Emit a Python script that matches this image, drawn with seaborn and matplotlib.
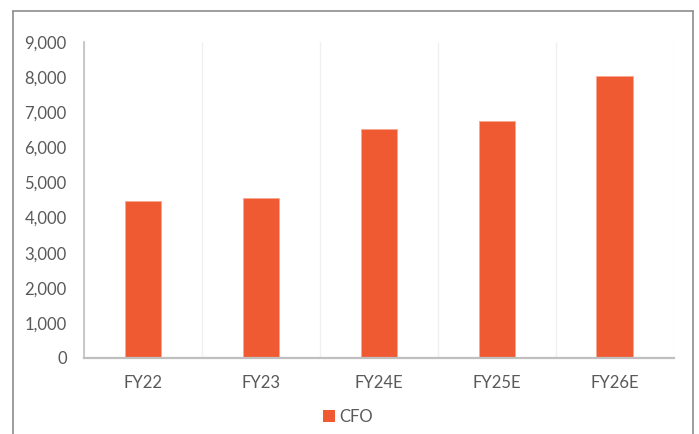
import matplotlib
matplotlib.use("Agg")
import matplotlib.pyplot as plt
import matplotlib.ticker as mticker
from matplotlib.lines import Line2D
from matplotlib.patches import Patch
import seaborn as sns
import pandas as pd

categories = ["FY22", "FY23", "FY24E", "FY25E", "FY26E"]
cfo = [4470, 4550, 6530, 6740, 8040]
series_name = "CFO"
yticks = [0, 1000, 2000, 3000, 4000, 5000, 6000, 7000, 8000, 9000]

sns.set_style("white")
plt.rcParams["font.family"] = ["Lato", "DejaVu Sans"]

W, H = 699, 434
fig = plt.figure(figsize=(W / 100, H / 100), dpi=100)
ax = fig.add_axes([84 / W, 1 - 358 / H, (673.7 - 84) / W, (358 - 42) / H])

df = pd.DataFrame({"cat": categories, "val": cfo})
sns.barplot(data=df, x="cat", y="val", color="#F05A32", width=0.31, ax=ax,
            saturation=1, edgecolor="#F9A88F", linewidth=0.6)

ax.set_xlim(-0.5, len(categories) - 0.5)
ax.set_ylim(0, 9000)
ax.set_yticks(yticks)
ax.yaxis.set_major_formatter(mticker.FuncFormatter(lambda v, p: f"{int(v):,}"))
ax.set_xlabel("")
ax.set_ylabel("")

axis_c = "#BFBFBF"
txt_c = "#595959"
for s in ["top", "right"]:
    ax.spines[s].set_visible(False)
for s in ["left", "bottom"]:
    ax.spines[s].set_visible(True)
    ax.spines[s].set_color(axis_c)
    ax.spines[s].set_linewidth(1.6)
ax.spines["left"].set_linewidth(1.2)

ax.set_xticks([i - 0.5 for i in range(len(categories) + 1)], minor=True)
ax.tick_params(axis="x", which="major", length=0, pad=12, labelsize=12, labelcolor=txt_c)
ax.tick_params(axis="x", which="minor", length=8.5, width=1.5, direction="inout", color=axis_c)
ax.tick_params(axis="y", which="major", length=9, width=1.3, direction="inout", color=axis_c,
               pad=8, labelsize=12, labelcolor=txt_c)
ax.grid(False)
ax.xaxis.grid(True, which="minor", color="#F0F0F0", linewidth=1)
ax.set_axisbelow(True)

# outer border
bc = "#8C8C8C"
fig.add_artist(Line2D([12.5 / W, 12.5 / W], [0, 1 - 11 / H], color=bc, lw=1.2, transform=fig.transFigure))
fig.add_artist(Line2D([692.5 / W, 692.5 / W], [0, 1 - 11 / H], color=bc, lw=1.2, transform=fig.transFigure))
fig.add_artist(Line2D([12.5 / W, 692.5 / W], [1 - 11 / H, 1 - 11 / H], color=bc, lw=1.2, transform=fig.transFigure))

handle = Patch(facecolor="#F05A32", edgecolor="none", label=series_name)
leg = fig.legend(handles=[handle], loc="center", bbox_to_anchor=(348 / W, 1 - 417 / H),
                 frameon=False, handlelength=0.72, handleheight=0.72, handletextpad=0.3,
                 fontsize=12, labelcolor=txt_c)

fig.savefig("out.png", dpi=100)
